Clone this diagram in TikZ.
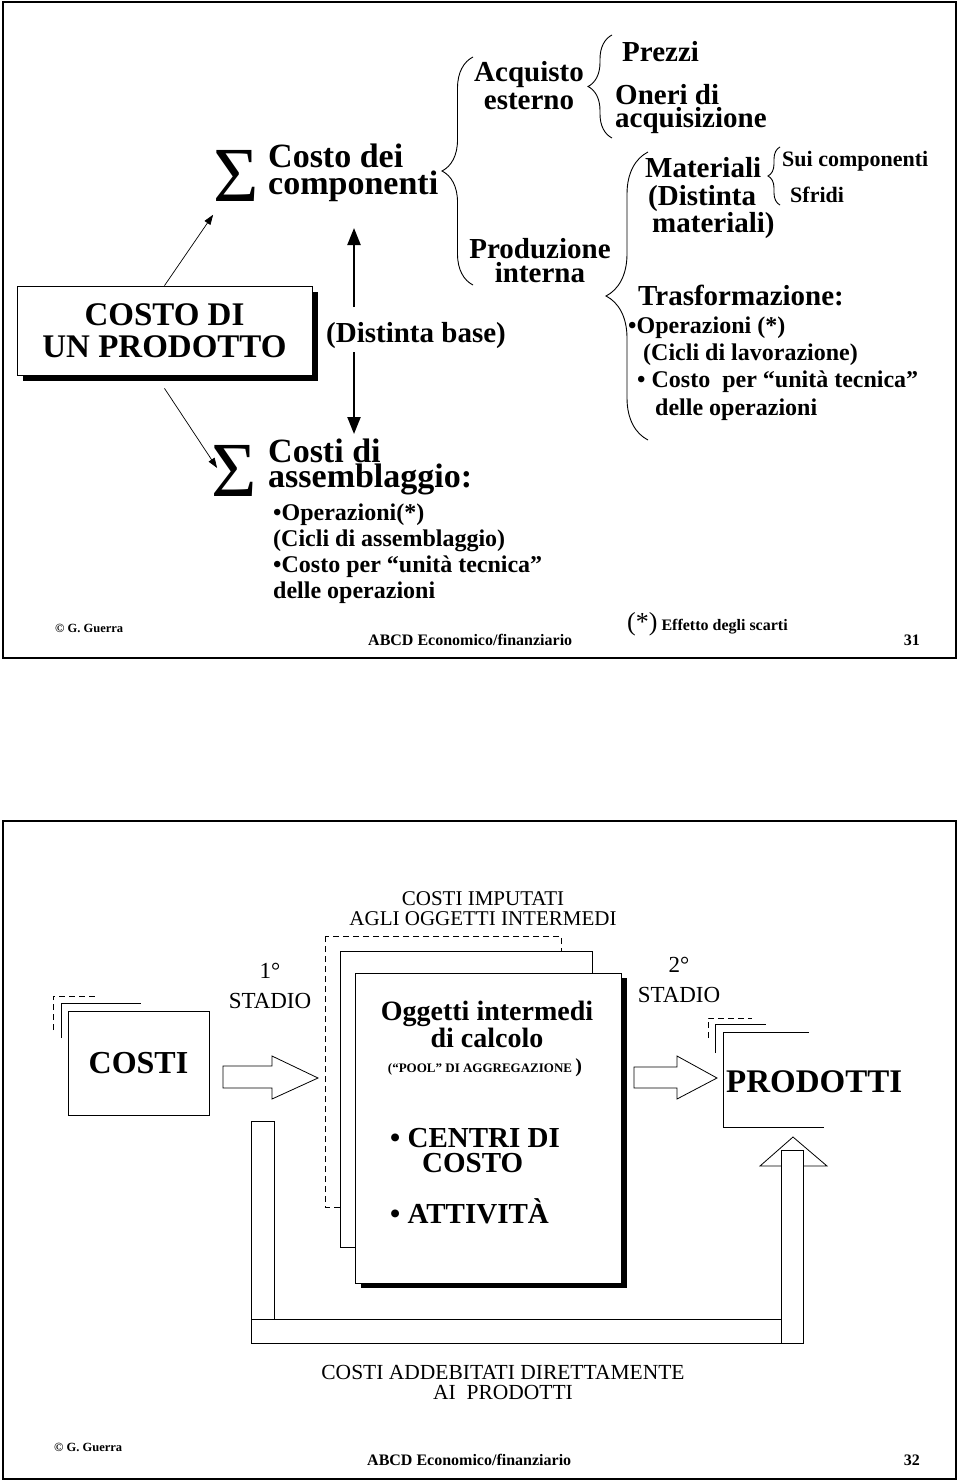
\documentclass[tikz,border=0pt]{standalone}
\usepackage{fontspec}
\setmainfont{Liberation Serif}
\usetikzlibrary{arrows.meta,decorations.pathreplacing,shadows}

\newcommand{\fsz}[2]{\fontsize{#1}{#2}\selectfont}

\tikzset{
  slide/.style={line width=1.8pt},
  txt/.style={inner sep=0pt, font=\bfseries\fsz{29}{28}},
  small/.style={inner sep=0pt, font=\bfseries\fsz{24}{26}, align=left},
  plain/.style={inner sep=0pt, font=\fsz{21.5}{20}, align=center},
  foot/.style={inner sep=0pt, font=\bfseries\fsz{16}{16}},
  sigma/.style={inner sep=0pt, font=\fsz{78}{78}},
  prodbox/.style={draw, fill=white, line width=0.8pt, minimum width=295pt,
    minimum height=89pt, align=center, font=\bfseries\fsz{33}{32},
    drop shadow={opacity=1, fill=black, shadow xshift=6pt, shadow yshift=-6pt}},
  card/.style={draw, fill=white, line width=0.8pt},
  ghost/.style={line width=0.8pt, dash pattern=on 6pt off 4pt},
  thinarrow/.style={line width=0.7pt, -{Triangle[length=10pt,width=7pt]}},
  bigarrow/.style={line width=2.2pt, -{Triangle[length=17pt,width=13pt]}},
  brace/.style={decorate, line width=0.9pt, decoration={brace, amplitude=#1}},
  pipe/.style={draw, fill=white, line width=0.8pt}
}

\begin{document}
\begin{tikzpicture}[x=1pt, y=-1pt]
  \useasboundingbox (0,0) rectangle (960,1482);

  % ================= slide 31 =================
  \draw[slide] (3,2) rectangle (956,658);

  \node[prodbox] (prodotto) at (164.5,330.5) {COSTO DI\\UN PRODOTTO};

  \node[sigma] (sigmaA) at (236,176) {Σ};
  \node[sigma] (sigmaB) at (234,471) {Σ};

  % multi-line nodes sit on the baseline of their last line
  \node[txt, anchor=base west, font=\bfseries\fsz{34}{27}, align=left] (costocomp) at (268,194) {Costo dei\\componenti};
  \node[txt, anchor=base west, font=\bfseries\fsz{34}{25}, align=left] (assembl) at (268,487) {Costi di\\assemblaggio:};
  \node[small, anchor=base west] (assembList) at (273,598) {•Operazioni(*)\\(Cicli di assemblaggio)\\•Costo per “unità tecnica”\\delle operazioni};

  \draw[thinarrow] (prodotto.north) -- ([yshift=-13pt]sigmaA.south west);
  \draw[thinarrow] ([yshift=-13pt]prodotto.south) -- ([xshift=6pt,yshift=3pt]sigmaB.west);

  % distinta base with the two thick arrows
  \node[txt, anchor=base west] (distinta) at (326,342) {(Distinta base)};
  \coordinate (upBase) at (354,307);
  \coordinate (upTip) at (354,228);
  \coordinate (dnBase) at (354,352);
  \coordinate (dnTip) at (354,434);
  \draw[bigarrow] (upBase) -- (upTip);
  \draw[bigarrow] (dnBase) -- (dnTip);

  % first level of braces (drawn bottom to top, y axis points down)
  \draw[brace=31pt] (473,285) -- (473,57);
  \node[txt, anchor=base, align=center] (acquisto) at (529,110) {Acquisto\\esterno};
  \node[txt, anchor=base, align=center, font=\bfseries\fsz{29}{24}] (produzione) at (540,282) {Produzione\\interna};

  % acquisto esterno
  \draw[brace=24pt] (612,138) -- (612,35);
  \node[txt, anchor=base west] (prezzi) at (622,62) {Prezzi};
  \node[txt, anchor=base west, font=\bfseries\fsz{29}{23}, align=left] (oneri) at (615,128) {Oneri di\\acquisizione};

  % produzione interna
  \draw[brace=42pt] (648,440) -- (648,152);
  \node[txt, anchor=base west, font=\bfseries\fsz{29}{27.5}, align=left] (materiali) at (645,233) {Materiali\\\hspace*{3pt}(Distinta\\\hspace*{7pt}materiali)};
  \draw[brace=12pt] (780,205) -- (780,147);
  \node[txt, anchor=base west, font=\bfseries\fsz{22}{22}] (sui) at (782,167) {Sui componenti};
  \node[txt, anchor=base west, font=\bfseries\fsz{22}{22}] (sfridi) at (790,203) {Sfridi};
  \node[txt, anchor=base west] (trasf) at (638,305) {Trasformazione:};
  \node[small, anchor=base west, font=\bfseries\fsz{24}{27.3}] (trasfList) at (628,415) {•Operazioni (*)\\\hspace*{15pt}(Cicli di lavorazione)\\\hspace*{9pt}• Costo\ \ per “unità tecnica”\\\hspace*{27pt}delle operazioni};

  \node[foot, anchor=base west] (nota) at (627,630) {{\mdseries\fsz{26}{26}(*)} Effetto degli scarti};

  \node[foot, anchor=base west, font=\bfseries\fsz{12.5}{12.5}] (autoreA) at (55,632) {© G. Guerra};
  \node[foot, anchor=base west] (corsoA) at (368,645) {ABCD Economico/finanziario};
  \node[foot, anchor=base east] (paginaA) at (920,645) {31};

  % ================= slide 32 =================
  \draw[slide] (3,821) rectangle (956,1479);

  \node[plain, anchor=base, font=\fsz{21}{20}] (imputati) at (483,925) {COSTI IMPUTATI\\AGLI OGGETTI INTERMEDI};

  % COSTI stack
  \draw[ghost] (53,1030) -- (53,996) -- (97,996);
  \draw[line width=0.8pt] (61,1038) -- (61,1003) -- (141,1003);
  \node[card, minimum width=141pt, minimum height=104pt, font=\bfseries\fsz{32}{32}] (costi) at (138.5,1063) {COSTI};

  % first stage
  \node[plain, anchor=base, font=\fsz{23}{30}] (stadioA) at (270,1008) {1°\\STADIO};
  \draw[pipe] (223,1066) -- (272,1066) -- (272,1056) -- (318,1078) -- (272,1099) -- (272,1088) -- (223,1088) -- cycle;

  % stacked cards of the intermediate objects
  \draw[card, ghost] (325,936) rectangle (561,1207);
  \draw[card] (340,951) rectangle (592,1247);
  \node[card, minimum width=266pt, minimum height=310pt,
    drop shadow={opacity=1, fill=black, shadow xshift=6pt, shadow yshift=-5pt}] (oggetti) at (488,1128) {};
  \node[txt, anchor=base, align=center, font=\bfseries\fsz{28}{27}] (oggettiTit) at (487,1047) {Oggetti intermedi\\di calcolo};
  \node[txt, anchor=base, font=\bfseries\fsz{13}{13}] (pool) at (485,1072) {(“POOL” DI AGGREGAZIONE {\fsz{20}{20})}};
  \node[txt, anchor=base west, align=left, font=\bfseries\fsz{29}{25}] (centri) at (390,1172) {• CENTRI DI\\\hspace*{32pt}COSTO};
  \node[txt, anchor=base west, font=\bfseries\fsz{29}{25}] (attivita) at (390,1223) {• ATTIVITÀ};

  % second stage
  \node[plain, anchor=base, font=\fsz{23}{30}] (stadioB) at (679,1002) {2°\\STADIO};
  \draw[pipe] (634,1067) -- (677,1067) -- (677,1056) -- (717,1078) -- (677,1099) -- (677,1088) -- (634,1088) -- cycle;

  % PRODOTTI stack
  \draw[ghost] (708,1038) -- (708,1018) -- (752,1018);
  \draw[line width=0.8pt] (715,1053) -- (715,1024) -- (766,1024);
  \draw[line width=0.8pt] (809,1032) -- (723,1032) -- (723,1127) -- (824,1127);
  \node[txt, anchor=base west, font=\bfseries\fsz{33}{33}] (prodotti) at (726,1092) {PRODOTTI};

  % direct charge pipe
  \draw[pipe] (251,1121) rectangle (274,1319);
  \draw[pipe] (251,1319) rectangle (781,1343);
  \draw[pipe] (760,1166) -- (793,1137) -- (827,1166) -- cycle;
  \draw[pipe] (781,1150) rectangle (803,1343);

  \node[plain, anchor=base] (addebitati) at (503,1399) {COSTI ADDEBITATI DIRETTAMENTE\\AI\ \ PRODOTTI};

  \node[foot, anchor=base west, font=\bfseries\fsz{12.5}{12.5}] (autoreB) at (54,1451) {© G. Guerra};
  \node[foot, anchor=base west] (corsoB) at (367,1465) {ABCD Economico/finanziario};
  \node[foot, anchor=base east] (paginaB) at (920,1465) {32};
\end{tikzpicture}
\end{document}
